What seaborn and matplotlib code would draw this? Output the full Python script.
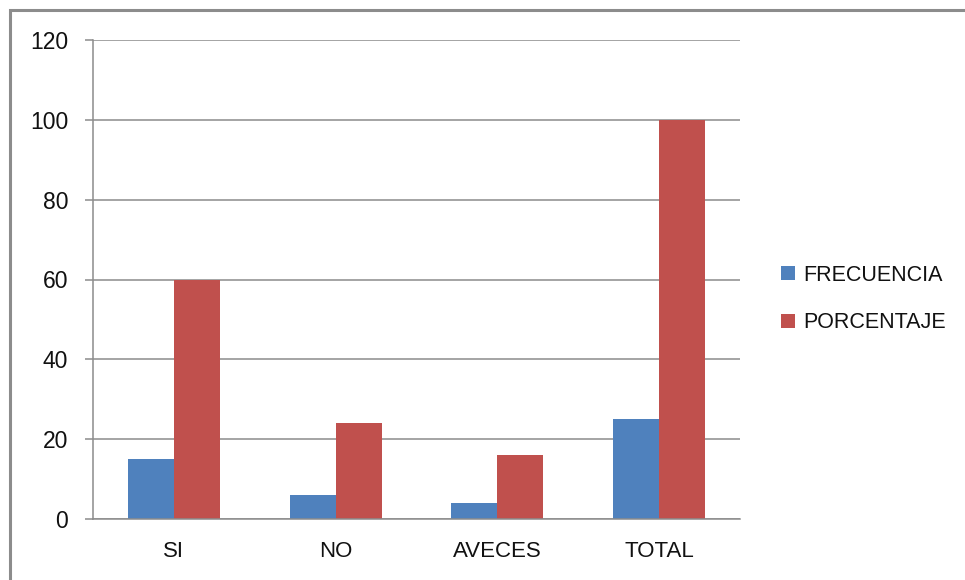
import matplotlib
matplotlib.use("Agg")
import matplotlib.pyplot as plt
import seaborn as sns
import pandas as pd
from matplotlib.patches import Rectangle
from matplotlib.lines import Line2D

categories = ["SI", "NO", "AVECES", "TOTAL"]
frecuencia = [15, 6, 4, 25]
porcentaje = [60, 24, 16, 100]
series_names = ["FRECUENCIA", "PORCENTAJE"]
y_ticks = [0, 20, 40, 60, 80, 100, 120]

df = pd.DataFrame({
    "categoria": categories * 2,
    "valor": frecuencia + porcentaje,
    "serie": [series_names[0]] * len(categories) + [series_names[1]] * len(categories),
})

sns.set_theme(style="white")
plt.rcParams["font.family"] = ["Liberation Sans", "DejaVu Sans"]

colors = {"FRECUENCIA": "#4F81BD", "PORCENTAJE": "#C0504D"}
grid_color = "#8C8C8C"

fig = plt.figure(figsize=(9.65, 5.8), dpi=100)
ax = fig.add_axes([93 / 965, 61 / 580, 647 / 965, 479 / 580])

sns.barplot(data=df, x="categoria", y="valor", hue="serie", order=categories,
            hue_order=series_names, palette=colors, width=0.57, gap=0,
            linewidth=0, saturation=1, ax=ax, legend=False)

ax.set_xlim(-0.5, len(categories) - 0.5)
ax.set_ylim(0, 120)
ax.set_yticks(y_ticks)
ax.set_xlabel("")
ax.set_ylabel("")

ax.set_axisbelow(True)
ax.yaxis.grid(True, color=grid_color, linewidth=1.1)
ax.xaxis.grid(False)

for side in ["top", "right"]:
    ax.spines[side].set_visible(False)
for side in ["left", "bottom"]:
    ax.spines[side].set_color(grid_color)
    ax.spines[side].set_linewidth(1.1)

# category separators as minor ticks on the x axis
ax.set_xticks([i - 0.5 for i in range(len(categories) + 1)], minor=True)
ax.tick_params(axis="x", which="minor", length=7, width=1.1, color=grid_color, direction="out")
ax.tick_params(axis="x", which="major", length=0, pad=16, labelsize=16, labelcolor="#111111")
ax.tick_params(axis="y", which="major", left=True, length=6, width=1.1, color=grid_color,
               direction="out", pad=12, labelsize=16.5, labelcolor="#111111")

handles = [Line2D([0], [0], marker="s", linestyle="", markersize=10,
                  markerfacecolor=colors[s], markeredgewidth=0) for s in series_names]
fig.legend(handles, series_names, loc="center left", bbox_to_anchor=(769 / 965, 1 - 299 / 580),
           frameon=False, fontsize=15.5, handletextpad=0.2, labelspacing=1.25,
           handlelength=1.0, borderaxespad=0, labelcolor="#111111")

# chart area border
fig.patches.append(Rectangle((10 / 965, -0.1), 1.2, 1.1 - 10 / 580,
                             transform=fig.transFigure, fill=False,
                             edgecolor="#8C8C8C", linewidth=2.2))

fig.savefig("out.png", dpi=100)
